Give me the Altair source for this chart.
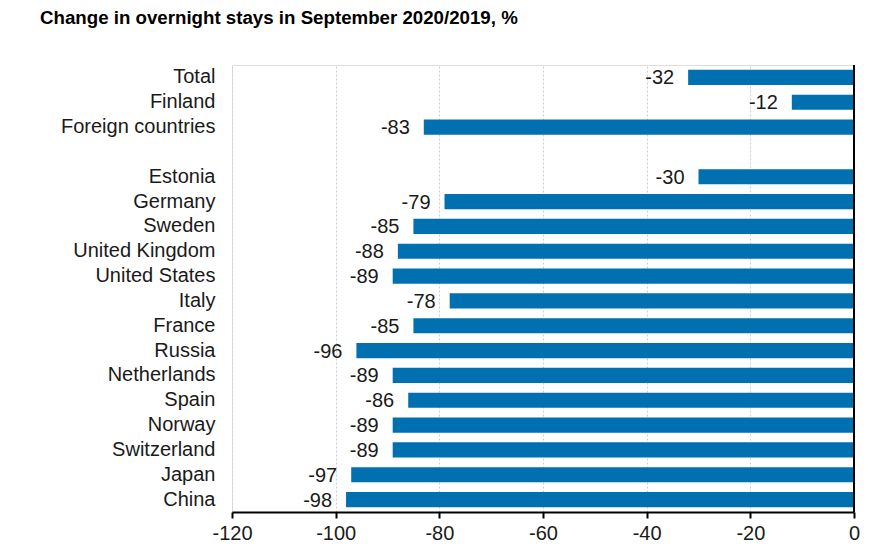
import altair as alt
import pandas as pd

categories = ["Total", "Finland", "Foreign countries", "Estonia", "Germany", "Sweden",
              "United Kingdom", "United States", "Italy", "France", "Russia",
              "Netherlands", "Spain", "Norway", "Switzerland", "Japan", "China"]
values = [-32, -12, -83, -30, -79, -85, -88, -89, -78, -85, -96, -89, -86, -89, -89, -97, -98]
# row order on the axis, with an empty spacer row after "Foreign countries"
row_order = categories[:3] + [" "] + categories[3:]
x_ticks = [-120, -100, -80, -60, -40, -20, 0]

df = pd.DataFrame({"country": categories, "value": values,
                   "label": [str(v) for v in values]})

FONT = "Liberation Sans"
W, H = 622, 447

x_scale = alt.Scale(domain=[-120, 0], nice=False, zero=False)
y_scale = alt.Scale(domain=row_order, paddingInner=0.39, paddingOuter=0.195)

base = alt.Chart(df)

bars = base.mark_bar(color="#0070b0").encode(
    x=alt.X("value:Q", scale=x_scale,
            axis=alt.Axis(values=x_ticks, title=None, grid=True,
                          gridColor="#cfcfcf", gridDash=[2, 2], gridWidth=1,
                          domainColor="black", domainWidth=2,
                          tickColor="black", tickWidth=2, tickSize=6,
                          labelFontSize=20, labelFont=FONT, labelColor="#1a1a1a",
                          labelPadding=5, labelFlush=False,
                          labelExpr="'' + datum.value")),
    x2=alt.datum(0),
    y=alt.Y("country:N", scale=y_scale, sort=row_order,
            axis=alt.Axis(title=None, domain=False, ticks=False,
                          labelFontSize=20, labelFont=FONT, labelColor="#1a1a1a",
                          labelPadding=17)),
)

labels = base.mark_text(align="right", baseline="middle", dx=-14, dy=1,
                        fontSize=20, font=FONT, color="#1a1a1a").encode(
    x=alt.X("value:Q", scale=x_scale),
    y=alt.Y("country:N", scale=y_scale, sort=row_order),
    text=alt.Text("label:N"),
)

zero_line = alt.Chart(pd.DataFrame({"z": [0]})).mark_rule(color="black", strokeWidth=2).encode(
    x=alt.X("z:Q", scale=x_scale),
    y=alt.value(0),
    y2=alt.value(H),
)

chart = alt.layer(bars, labels, zero_line).properties(
    width=W,
    height=H,
    title=alt.TitleParams(
        text="Change in overnight stays in September 2020/2019, %",
        anchor="start", frame="group", dx=-192, offset=36,
        fontSize=18.7, font=FONT, fontWeight="bold", color="black"),
    autosize=alt.AutoSizeParams(type="none"),
    padding={"left": 224, "top": 57, "right": 15, "bottom": 36},
).configure_view(stroke=None).configure(background="white")

chart.save("out.html", embed_options={"renderer": "svg", "actions": False})
